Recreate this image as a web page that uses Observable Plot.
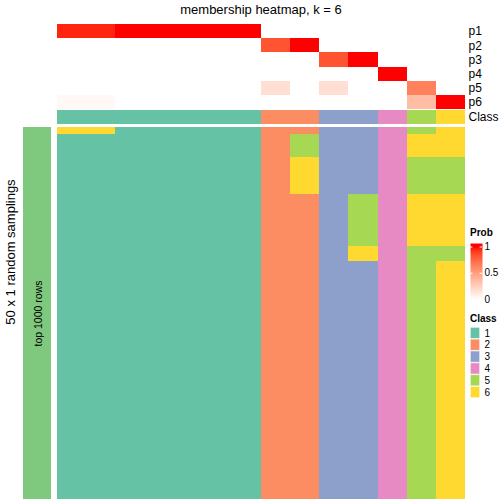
<!DOCTYPE html>
<html><head><meta charset="utf-8">
<script src="https://cdn.jsdelivr.net/npm/d3@7"></script>
<script src="https://cdn.jsdelivr.net/npm/@observablehq/plot@0.6"></script>
<style>
body{margin:0;background:#fff;}
#root{position:relative;width:504px;height:504px;overflow:hidden;background:#fff;font-family:"Liberation Sans",Arial,Helvetica,sans-serif;color:#000;}
.abs{position:absolute;}
.abs svg{display:block;overflow:visible;}
.txt{position:absolute;white-space:nowrap;line-height:1;}
</style></head><body><div id="root"></div>
<script>
// ---------- data ----------
const titleText = "membership heatmap, k = 6";
const sideTitle = "50 x 1 random samplings";
const barLabel = "top 1000 rows";
const samples = ["s1","s2","s3","s4","s5","s6","s7","s8","s9","s10","s11","s12","s13","s14"];
const probRows = ["p1","p2","p3","p4","p5","p6"];
const p1 = [0.96,0.96,1,1,1,1,1,0,0,0,0,0,0,0];
const p2 = [0,0,0,0,0,0,0,0.83,1,0,0,0,0,0];
const p3 = [0,0,0,0,0,0,0,0,0,0.83,1,0,0,0];
const p4 = [0,0,0,0,0,0,0,0,0,0,0,1,0,0];
const p5 = [0,0,0,0,0,0,0,0.17,0,0.17,0,0,0.65,0];
const p6 = [0.04,0.04,0,0,0,0,0,0,0,0,0,0,0.35,1];
const sampleClass = [1,1,1,1,1,1,1,2,2,3,3,4,5,6];
const classLevels = [1,2,3,4,5,6];
const classColors = ["#66C2A5","#FC8D62","#8DA0CB","#E78AC3","#A6D854","#FFD92F"];
const probTicks = [0,0.5,1];
// class of each of the 50 samplings (rows, top to bottom) for each sample column
const membershipByColumn = [
  "6111111111 1111111111 1111111111 1111111111 1111111111",
  "6111111111 1111111111 1111111111 1111111111 1111111111",
  "1111111111 1111111111 1111111111 1111111111 1111111111",
  "1111111111 1111111111 1111111111 1111111111 1111111111",
  "1111111111 1111111111 1111111111 1111111111 1111111111",
  "1111111111 1111111111 1111111111 1111111111 1111111111",
  "1111111111 1111111111 1111111111 1111111111 1111111111",
  "2222222222 2222222222 2222222222 2222222222 2222222222",
  "2555666662 2222222222 2222222222 2222222222 2222222222",
  "3333333333 3333333333 3333333333 3333333333 3333333333",
  "3333333335 5555556633 3333333333 3333333333 3333333333",
  "4444444444 4444444444 4444444444 4444444444 4444444444",
  "5666555556 6666665555 5555555555 5555555555 5555555555",
  "6666555556 6666665566 6666666666 6666666666 6666666666"
];

// ---------- helpers ----------
const root = document.getElementById("root");
const FONT = '"Liberation Sans", Arial, Helvetica, sans-serif';
function place(node, left, top) {
  const d = document.createElement("div");
  d.className = "abs";
  d.style.left = left + "px"; d.style.top = top + "px";
  d.appendChild(node); root.appendChild(d);
}
function addText(text, css) {
  const d = document.createElement("div");
  d.className = "txt"; d.textContent = text;
  Object.assign(d.style, css);
  root.appendChild(d); return d;
}
const probColor = {type:"linear", domain:[0,1], range:["white","red"], interpolate:"lab", clamp:true};
const classColor = {type:"ordinal", domain:classLevels, range:classColors};
const baseStyle = {fontFamily: FONT, background:"transparent", color:"#000"};

// ---------- title ----------
addText(titleText, {left:"57px", width:"408px", textAlign:"center", top:"3px", fontSize:"13px"});

// ---------- probability heatmap ----------
const probData = [];
[p1,p2,p3,p4,p5,p6].forEach((arr, r) => arr.forEach((v, j) => probData.push({sample: samples[j], row: probRows[r], value: v})));
place(Plot.plot({
  width: 447, height: 85, marginLeft: 0, marginRight: 39, marginTop: 0, marginBottom: 0,
  style: {...baseStyle, fontSize: "12px"},
  x: {domain: samples, padding: 0, round: false, axis: null},
  y: {domain: probRows, padding: 0, round: false},
  color: probColor,
  marks: [
    Plot.cell(probData, {x: "sample", y: "row", fill: "value", shapeRendering: "crispEdges"}),
    Plot.axisY({anchor: "right", tickSize: 0, tickPadding: 3, fontSize: 12, label: null})
  ]
}), 57, 24);

// ---------- class annotation ----------
const classData = samples.map((s, j) => ({sample: s, row: "Class", cls: sampleClass[j]}));
place(Plot.plot({
  width: 447, height: 14, marginLeft: 0, marginRight: 39, marginTop: 0, marginBottom: 0,
  style: {...baseStyle, fontSize: "12px"},
  x: {domain: samples, padding: 0, round: false, axis: null},
  y: {domain: ["Class"], padding: 0, round: false},
  color: classColor,
  marks: [
    Plot.cell(classData, {x: "sample", y: "row", fill: "cls", shapeRendering: "crispEdges"}),
    Plot.axisY({anchor: "right", tickSize: 0, tickPadding: 3, fontSize: 12, label: null})
  ]
}), 57, 110);

// ---------- membership heatmap ----------
const memData = [];
const rowIds = [];
membershipByColumn.forEach((str, j) => {
  const s = str.replace(/\s+/g, "");
  for (let i = 0; i < s.length; i++) {
    if (j === 0) rowIds.push("r" + (i + 1));
    memData.push({sample: samples[j], row: "r" + (i + 1), cls: +s[i]});
  }
});
place(Plot.plot({
  width: 408, height: 372, marginLeft: 0, marginRight: 0, marginTop: 0, marginBottom: 0,
  style: baseStyle,
  x: {domain: samples, padding: 0, round: false, axis: null},
  y: {domain: rowIds, padding: 0, round: false, axis: null},
  color: classColor,
  marks: [Plot.cell(memData, {x: "sample", y: "row", fill: "cls", shapeRendering: "crispEdges"})]
}), 57, 127);

// ---------- left annotation bar ----------
place(Plot.plot({
  width: 28, height: 372, marginLeft: 0, marginRight: 0, marginTop: 0, marginBottom: 0,
  style: baseStyle,
  y: {domain: [barLabel], padding: 0, round: false, axis: null},
  marks: [
    Plot.cell([barLabel], {y: d => d, fill: "#7FC97F"}),
    Plot.text([barLabel], {y: d => d, text: d => d, rotate: -90, fontSize: 10.5, fill: "#000", dx: 1.5})
  ]
}), 23, 127);

// ---------- side title ----------
addText(sideTitle, {left:"10px", top:"252px", fontSize:"13px", lineHeight:"13px",
  transform:"translate(-50%,-50%) rotate(-90deg)"});

// ---------- Prob legend ----------
addText("Prob", {left:"470px", top:"227.5px", fontSize:"10px", lineHeight:"10px", fontWeight:"bold"});
place(Plot.plot({
  width: 34, height: 59, marginLeft: 0, marginRight: 22, marginTop: 0, marginBottom: 0,
  style: {...baseStyle, fontSize: "10px"},
  x: {domain: [0, 1], axis: null},
  y: {domain: [-0.057, 1.067]},
  color: probColor,
  marks: [
    Plot.raster({x1: 0, x2: 1, y1: -0.057, y2: 1.067, fill: (x, y) => y, pixelSize: 1}),
    Plot.ruleY(probTicks.slice(1), {x1: 0, x2: 0.2, stroke: "white", strokeWidth: 1}),
    Plot.ruleY(probTicks.slice(1), {x1: 0.8, x2: 1, stroke: "white", strokeWidth: 1}),
    Plot.axisY(probTicks, {anchor: "right", tickSize: 0, tickPadding: 2, fontSize: 10, tickFormat: d => String(d), label: null})
  ]
}), 470, 243);

// ---------- Class legend ----------
addText("Class", {left:"470px", top:"313.5px", fontSize:"10px", lineHeight:"10px", fontWeight:"bold"});
place(Plot.plot({
  width: 34, height: 71, marginLeft: 0, marginRight: 24, marginTop: 0, marginBottom: 0,
  style: {...baseStyle, fontSize: "10px"},
  y: {domain: classLevels, padding: 0, round: false},
  color: classColor,
  marks: [
    Plot.cell(classLevels, {y: d => d, fill: d => d, stroke: "white", strokeOpacity: 0.6, strokeWidth: 1, inset: 0.3}),
    Plot.axisY({anchor: "right", tickSize: 0, tickPadding: 4, fontSize: 10, label: null})
  ]
}), 470, 326.5);
</script></body></html>
